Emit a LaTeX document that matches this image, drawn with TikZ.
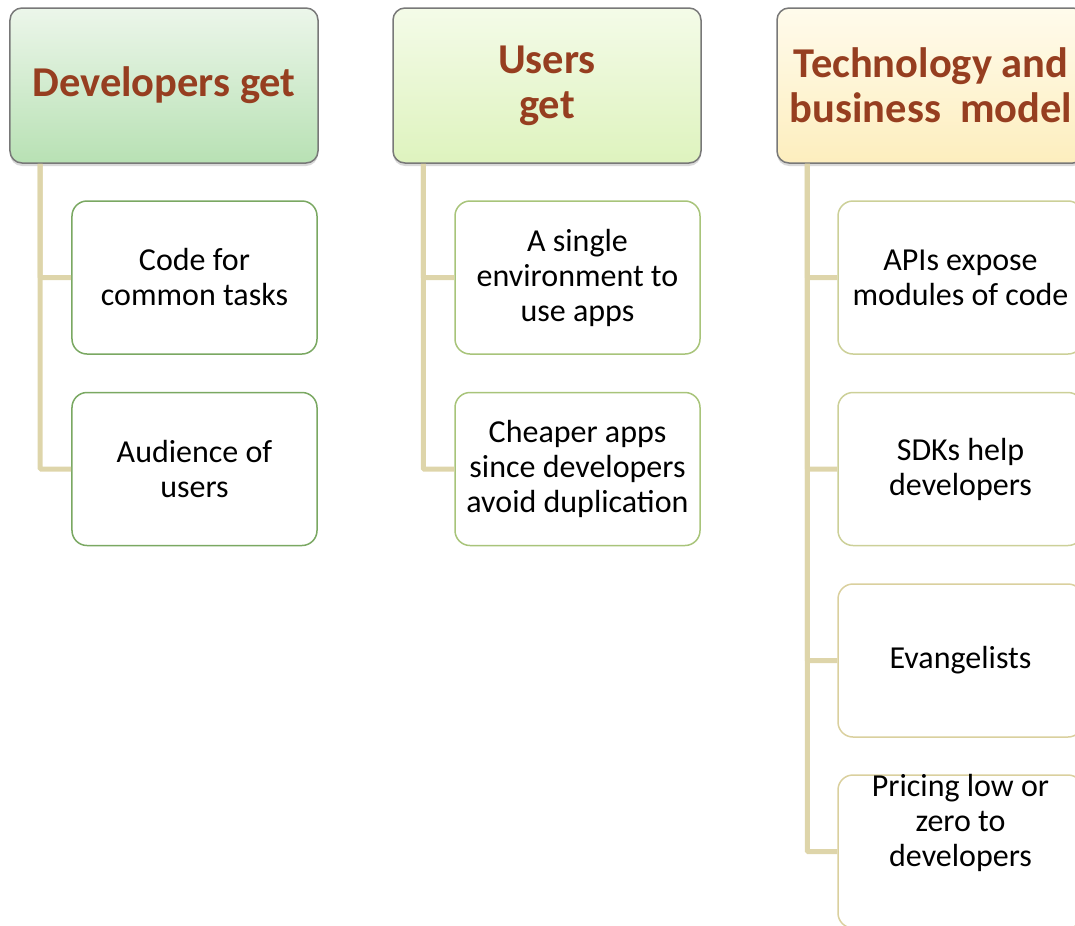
\documentclass[tikz,border=0pt]{standalone}
\usepackage{fontspec}
\setmainfont{Carlito}
\usetikzlibrary{shadows}
\definecolor{headtext}{RGB}{150,62,32}
\definecolor{headline}{RGB}{120,120,120}
\definecolor{spinecol}{RGB}{222,213,170}
\definecolor{devline}{RGB}{122,168,98}
\definecolor{userline}{RGB}{168,196,122}
\definecolor{techline}{RGB}{204,208,152}
\definecolor{techlineb}{RGB}{218,208,158}
\tikzset{
  head/.style={draw=headline, line width=1.5bp, rounded corners=12bp,
    minimum width=308bp, minimum height=155bp, inner sep=0pt,
    align=center, text=headtext,
    font=\fontsize{42.5bp}{45bp}\selectfont\bfseries,
    drop shadow={shadow xshift=0bp, shadow yshift=-3bp, opacity=.3}},
  item/.style={draw, line width=1.5bp, rounded corners=15bp, fill=white,
    minimum width=245bp, minimum height=153bp, inner sep=0pt,
    align=center, font=\fontsize{32bp}{35bp}\selectfont},
  link/.style={draw=spinecol, line width=5bp, rounded corners=1bp},
}
\begin{document}
\begin{tikzpicture}[x=1bp,y=-1bp]
  \useasboundingbox (0,0) rectangle (1075,926);
%%
  % Node: DevHead
  \node [head, top color={rgb,255:red,236;green,246;blue,234}, bottom color={rgb,255:red,184;green,225;blue,180}] (devhead) at (164,85.5) {Developers get};
  % Node: UserHead
  \node [head, top color={rgb,255:red,244;green,251;blue,232}, bottom color={rgb,255:red,222;green,243;blue,190}] (userhead) at (547,85.5) {Users\\get};
  % Node: TechHead
  \node [head, top color={rgb,255:red,255;green,251;blue,236}, bottom color={rgb,255:red,253;green,238;blue,190}] (techhead) at (931,85.5) {Technology and\\business\ \ model};
%
  % Node: Code
  \node [item, draw=devline] (code) at (194.5,277.5) {Code for\\common tasks};
  % Node: Audience
  \node [item, draw=devline] (audience) at (194.5,469) {Audience of\\users};
  % Node: Single
  \node [item, draw=userline] (single) at (577.5,277.5) {A single\\environment to\\use apps};
  % Node: Cheaper
  \node [item, draw=userline] (cheaper) at (577.5,469) {Cheaper apps\\since developers\\avoid duplication};
  % Node: Apis
  \node [item, draw=techline] (apis) at (960.5,277.5) {APIs expose\\modules of code};
  % Node: Sdks
  \node [item, draw=techline] (sdks) at (960.5,469) {SDKs help\\developers};
  % Node: Evangel
  \node [item, draw=techlineb] (evangel) at (960.5,660.5) {Evangelists};
  % Node: Pricing
  \node [item, draw=techlineb] (pricing) at (960.5,851.5) {};
  \node [font=\fontsize{32bp}{35bp}\selectfont, align=center] (pricetext) at (960.5,823) {Pricing low or\\zero to\\developers};
%
  % Edge: DevHead -> Code, Audience
  \draw [link] ([xshift=31bp]devhead.south west) |- (code.west);
  \draw [link] ([xshift=31bp]devhead.south west) |- (audience.west);
  % Edge: UserHead -> Single, Cheaper
  \draw [link] ([xshift=31bp]userhead.south west) |- (single.west);
  \draw [link] ([xshift=31bp]userhead.south west) |- (cheaper.west);
  % Edge: TechHead -> Apis, Sdks, Evangel, Pricing
  \draw [link] ([xshift=31bp]techhead.south west) |- (apis.west);
  \draw [link] ([xshift=31bp]techhead.south west) |- (sdks.west);
  \draw [link] ([xshift=31bp]techhead.south west) |- (evangel.west);
  \draw [link] ([xshift=31bp]techhead.south west) |- (pricing.west);
%
\end{tikzpicture}
\end{document}
